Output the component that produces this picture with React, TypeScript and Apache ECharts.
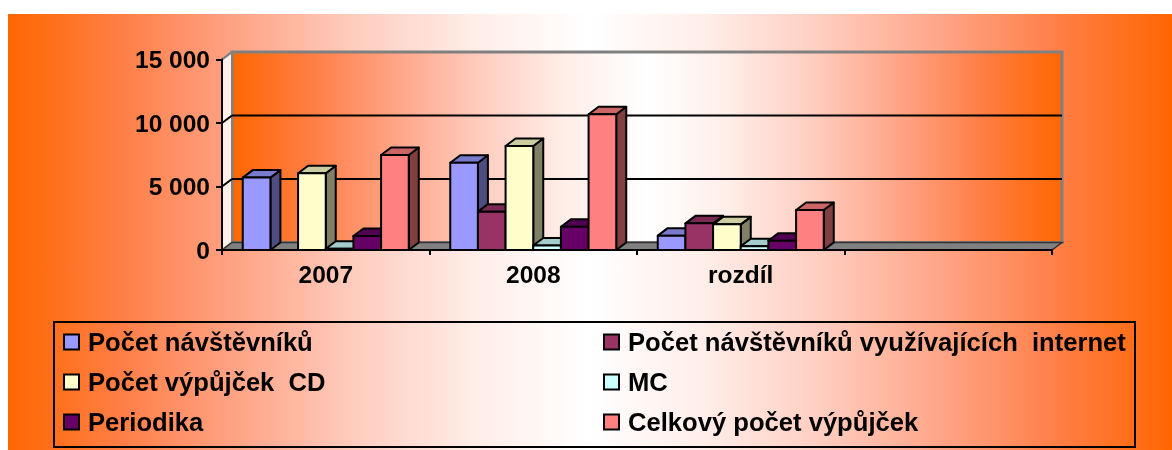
import React, { useEffect, useRef } from 'react';
import * as echarts from 'echarts';

const categories = ['2007', '2008', 'rozdíl', ''];
const seriesNames = [
  'Počet návštěvníků',
  'Počet návštěvníků využívajících  internet',
  'Počet výpůjček  CD',
  'MC',
  'Periodika',
  'Celkový počet výpůjček',
];
const navstevnici = [5700, 6870, 1130, null];
const internet = [0, 3020, 2100, null];
const vypujckyCD = [6040, 8190, 2020, null];
const mc = [100, 350, 300, null];
const periodika = [1100, 1835, 735, null];
const celkem = [7480, 10690, 3150, null];
const seriesValues = [navstevnici, internet, vypujckyCD, mc, periodika, celkem];
const seriesColors = ['#9999FF', '#993366', '#FFFFCC', '#CCFFFF', '#660066', '#FF8080'];
const yTicks = [0, 5000, 10000, 15000];

const FONT = "'Liberation Sans', Arial, sans-serif";
const DX = 10;
const DY = -7.5;

function shade(hex: string, f: number) {
  const n = parseInt(hex.slice(1), 16);
  const r = Math.round(((n >> 16) & 255) * f);
  const g = Math.round(((n >> 8) & 255) * f);
  const b = Math.round((n & 255) * f);
  return `rgb(${r},${g},${b})`;
}

const orangeGrad = () =>
  new echarts.graphic.LinearGradient(0, 0, 1, 0, [
    { offset: 0, color: '#FF6600' },
    { offset: 0.1, color: '#FF7F48' },
    { offset: 0.2, color: '#FFA588' },
    { offset: 0.3, color: '#FFCDBF' },
    { offset: 0.4, color: '#FFEDE8' },
    { offset: 0.5, color: '#FFFFFF' },
    { offset: 0.6, color: '#FFEDE8' },
    { offset: 0.7, color: '#FFCDBF' },
    { offset: 0.8, color: '#FFA588' },
    { offset: 0.9, color: '#FF7F48' },
    { offset: 1, color: '#FF6600' },
  ]);

function makeBarRender(sIdx: number, color: string) {
  return (params: any, api: any) => {
    const ci = api.value(0);
    const v = api.value(1);
    if (!(v > 0)) return null;
    const base = api.coord([ci, 0]);
    const top = api.coord([ci, v]);
    const catW = api.size([1, 0])[0];
    const gw = catW * 0.8;
    const bw = gw / 6;
    const x0 = base[0] - gw / 2 + sIdx * bw;
    const x1 = x0 + bw;
    const yb = base[1];
    const yt = top[1];
    const st = { stroke: '#000', lineWidth: 2, lineJoin: 'round' };
    return {
      type: 'group',
      children: [
        {
          type: 'polygon',
          shape: { points: [[x1, yt], [x1, yb], [x1 + DX, yb + DY], [x1 + DX, yt + DY]] },
          style: { fill: shade(color, 0.5), ...st },
        },
        {
          type: 'polygon',
          shape: { points: [[x0, yt], [x1, yt], [x1 + DX, yt + DY], [x0 + DX, yt + DY]] },
          style: { fill: shade(color, 0.8), ...st },
        },
        {
          type: 'rect',
          shape: { x: x0, y: yt, width: bw, height: yb - yt },
          style: { fill: color, ...st },
        },
      ],
    };
  };
}

function frameRender(params: any, api: any) {
  const cs = params.coordSys;
  const x = cs.x, y = cs.y, w = cs.width, h = cs.height;
  const children: any[] = [];
  children.push({
    type: 'rect',
    shape: { x: x + DX, y: y + DY, width: w, height: h },
    style: { fill: orangeGrad(), stroke: '#808080', lineWidth: 3 },
  });
  children.push({
    type: 'polygon',
    shape: { points: [[x, y + h], [x, y], [x + DX, y + DY], [x + DX, y + h + DY]] },
    style: { fill: '#FFF0EA', stroke: '#808080', lineWidth: 2 },
  });
  yTicks.forEach((t) => {
    const yy = api.coord([0, t])[1];
    if (t > 0 && t < yTicks[yTicks.length - 1]) {
      children.push({
        type: 'line',
        shape: { x1: x + DX, y1: yy + DY, x2: x + w + DX, y2: yy + DY },
        style: { stroke: '#000', lineWidth: 2 },
      });
    }
    if (t > 0) {
      children.push({
        type: 'line',
        shape: { x1: x, y1: yy, x2: x + DX, y2: yy + DY },
        style: { stroke: t < yTicks[yTicks.length - 1] ? '#000' : '#808080', lineWidth: 2 },
      });
    }
  });
  children.push({
    type: 'polygon',
    shape: { points: [[x, y + h], [x + w, y + h], [x + w + DX, y + h + DY], [x + DX, y + h + DY]] },
    style: { fill: '#808080', stroke: '#333', lineWidth: 1.5 },
  });
  return { type: 'group', children };
}

export default function App() {
  const ref = useRef<HTMLDivElement>(null);
  useEffect(() => {
    if (!ref.current) return;
    const chart = echarts.init(ref.current, undefined, { renderer: 'svg' });
    const legendCommon = {
      orient: 'vertical',
      top: 315,
      padding: 0,
      itemWidth: 15,
      itemHeight: 15,
      itemGap: 14,
      icon: 'rect',
      selectedMode: false,
      itemStyle: { borderColor: '#000', borderWidth: 2 },
      textStyle: {
        fontFamily: FONT,
        fontWeight: 'bold',
        fontSize: 25.6,
        color: '#000',
        lineHeight: 25,
        padding: [0, 0, 0, 4],
      },
    };
    const barSeries = seriesNames.map((name, i) => ({
      type: 'custom',
      name,
      z: 3,
      itemStyle: { color: seriesColors[i], borderColor: '#000', borderWidth: 2 },
      renderItem: makeBarRender(i, seriesColors[i]),
      data: seriesValues[i].map((v, ci) => [ci, v == null ? 0 : v]),
    }));
    chart.setOption({
      animation: false,
      backgroundColor: 'transparent',
      graphic: [
        {
          type: 'rect',
          z: -10,
          silent: true,
          shape: { x: 0, y: 0, width: 1164, height: 436 },
          style: { fill: orangeGrad() },
        },
        {
          type: 'rect',
          z: 10,
          silent: true,
          shape: { x: 46, y: 308, width: 1081, height: 125 },
          style: { fill: 'rgba(0,0,0,0)', stroke: '#000', lineWidth: 2 },
        },
      ],
      grid: { left: 214, top: 45.5, width: 830, height: 190.5 },
      xAxis: {
        type: 'category',
        data: categories,
        z: 6,
        axisLine: { show: true, lineStyle: { color: '#000', width: 2 } },
        axisTick: { show: true, length: 5, lineStyle: { color: '#000', width: 2 } },
        axisLabel: {
          margin: 12,
          fontFamily: FONT,
          fontWeight: 'bold',
          fontSize: 24.5,
          color: '#000',
        },
        splitLine: { show: false },
      },
      yAxis: {
        type: 'value',
        min: 0,
        max: 15000,
        interval: 5000,
        z: 6,
        axisLine: { show: true, lineStyle: { color: '#000', width: 2 } },
        axisTick: { show: true, length: 6, lineStyle: { color: '#000', width: 2 } },
        axisLabel: {
          margin: 12,
          fontFamily: FONT,
          fontWeight: 'bold',
          fontSize: 24.5,
          color: '#000',
          formatter: (v: number) => String(v).replace(/\B(?=(\d{3})+(?!\d))/g, ' '),
        },
        splitLine: { show: false },
      },
      legend: [
        { ...legendCommon, left: 55, data: [seriesNames[0], seriesNames[2], seriesNames[4]] },
        { ...legendCommon, left: 595, data: [seriesNames[1], seriesNames[3], seriesNames[5]] },
      ],
      series: [
        {
          type: 'custom',
          name: '__frame',
          z: 1,
          silent: true,
          renderItem: frameRender,
          data: [[0, 0]],
        },
        ...barSeries,
      ],
    });
    return () => chart.dispose();
  }, []);
  return (
    <div
      ref={ref}
      style={{ position: 'fixed', left: 8, top: 14, width: 1164, height: 436 }}
    />
  );
}
